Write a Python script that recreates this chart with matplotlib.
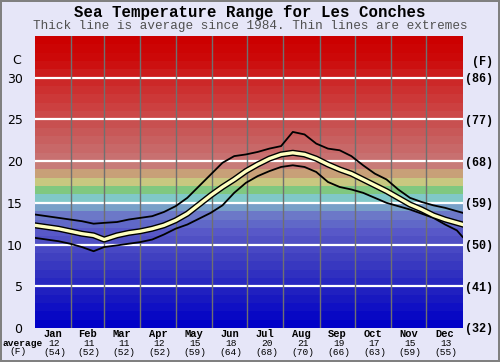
import numpy as np
import matplotlib
matplotlib.use("Agg")
import matplotlib.pyplot as plt
import matplotlib.patheffects as pe

# data (day of year -> deg C)
days = [0, 10, 20, 30, 40, 50, 59, 70, 80, 90, 100, 110, 120, 130, 140, 150, 160, 170, 180,
        190, 200, 210, 220, 230, 240, 250, 260, 270, 280, 290, 300, 310, 320, 330, 340, 350, 360, 365]
avg_c = [12.3, 12.1, 11.9, 11.6, 11.3, 11.1, 10.6, 11.1, 11.4, 11.6, 11.9, 12.3, 12.9, 13.7, 14.8,
         15.9, 16.9, 17.8, 18.8, 19.6, 20.3, 20.8, 21.0, 20.8, 20.3, 19.6, 19.0, 18.5, 17.8, 17.1,
         16.4, 15.6, 14.8, 14.2, 13.5, 13.0, 12.6, 12.4]
max_c = [13.6, 13.4, 13.2, 13.0, 12.8, 12.5, 12.6, 12.7, 13.0, 13.2, 13.4, 13.9, 14.6, 15.6, 17.0,
         18.4, 19.8, 20.6, 20.8, 21.1, 21.5, 21.8, 23.5, 23.2, 22.1, 21.5, 21.3, 20.6, 19.5, 18.5,
         17.8, 16.6, 15.6, 15.1, 14.7, 14.4, 14.0, 13.8]
min_c = [10.8, 10.6, 10.4, 10.1, 9.7, 9.2, 9.7, 9.9, 10.1, 10.3, 10.6, 11.2, 11.9, 12.4, 13.1,
         13.8, 14.7, 16.2, 17.4, 18.2, 18.8, 19.3, 19.5, 19.3, 18.7, 17.5, 16.9, 16.6, 16.2, 15.6,
         15.0, 14.6, 14.2, 13.7, 13.2, 12.4, 11.7, 10.9]

months = ["Jan", "Feb", "Mar", "Apr", "May", "Jun", "Jul", "Aug", "Sep", "Oct", "Nov", "Dec"]
month_avg_c = [12, 11, 11, 12, 15, 18, 20, 21, 19, 17, 15, 13]
month_avg_f = [54, 52, 52, 52, 59, 64, 68, 70, 66, 63, 59, 55]
month_start = [0, 31, 59, 90, 120, 151, 181, 212, 243, 273, 304, 334, 365]

c_ticks = [0, 5, 10, 15, 20, 25, 30]
f_labels = ["(32)", "(41)", "(50)", "(59)", "(68)", "(77)", "(86)"]

# one colour per 1 degree band, 0..35
band_colors = ["#0000c8", "#0808c4", "#1010c4", "#1818c0", "#2020c0", "#2828c0", "#3030c0",
               "#3838c0", "#4040c0", "#4848c4", "#5050c4", "#5858c8", "#6068c8", "#6c78c8",
               "#78a0c8", "#80c8c8", "#80c880", "#c8c880", "#c8a078", "#c87c78", "#c87070",
               "#c86868", "#c86060", "#c85858", "#c85050", "#cc4848", "#cc4040", "#cc3838",
               "#cc3030", "#cc2828", "#cc1c1c", "#cc1010", "#cc0808", "#cc0404", "#cc0000"]

bg = "#e6e6f8"
mono = "Liberation Mono"

fig = plt.figure(figsize=(5, 3.62), dpi=100, facecolor=bg, edgecolor="#808080", linewidth=1.5)
ax = fig.add_axes([0.07, 0.094, 0.8554, 0.8066])

for i, col in enumerate(band_colors):
    ax.axhspan(i, i + 1, color=col, lw=0, zorder=0)

for t in c_ticks[1:]:
    ax.axhline(t, color="white", lw=1.6, zorder=1)
for d in month_start[1:-1]:
    ax.axvline(d, color="#707070", lw=1, zorder=1)

ax.plot(days, max_c, color="black", lw=1.3, zorder=3)
ax.plot(days, min_c, color="black", lw=1.3, zorder=3)
ax.plot(days, avg_c, color="#ffffc0", lw=2.4, zorder=4,
        path_effects=[pe.Stroke(linewidth=4.4, foreground="black"), pe.Normal()])

ax.set_xlim(0, 365)
ax.set_ylim(0, 35)
for s in ax.spines.values():
    s.set_visible(False)
ax.set_xticks([])
ax.set_yticks(c_ticks)
ax.set_yticklabels([str(t) for t in c_ticks], fontsize=9, fontfamily="DejaVu Sans")
ax.tick_params(axis="y", length=0, pad=9)

ax2 = ax.twinx()
ax2.set_ylim(0, 35)
ax2.set_yticks(c_ticks)
ax2.set_yticklabels(f_labels, fontsize=8.5, fontfamily=mono, fontweight="bold")
ax2.tick_params(axis="y", length=0, pad=1.5)
for s in ax2.spines.values():
    s.set_visible(False)

for i, m in enumerate(months):
    mid = (month_start[i] + month_start[i + 1]) / 2
    ax.annotate(m, (mid, 0), xycoords=("data", "axes fraction"), xytext=(0, -4.5),
                textcoords="offset points", ha="center", va="center",
                fontsize=7.5, fontfamily=mono, fontweight="bold")
    ax.annotate(str(month_avg_c[i]), (mid, 0), xycoords=("data", "axes fraction"), xytext=(1, -11),
                textcoords="offset points", ha="center", va="center", fontsize=6.8, fontfamily=mono)
    ax.annotate("(%d)" % month_avg_f[i], (mid, 0), xycoords=("data", "axes fraction"), xytext=(1, -17.5),
                textcoords="offset points", ha="center", va="center", fontsize=6.8, fontfamily=mono)

fig.text(23 / 500, 1 - 344 / 362, "average", ha="center", va="center", fontsize=6.8,
         fontfamily=mono, fontweight="bold")
fig.text(18 / 500, 1 - 352 / 362, "(F)", ha="center", va="center", fontsize=6.8, fontfamily=mono)
fig.text(17 / 500, 1 - 61 / 362, "C", ha="center", va="center", fontsize=9, fontfamily="DejaVu Sans")
fig.text(482 / 500, 1 - 62 / 362, "(F)", ha="center", va="center", fontsize=8.5,
         fontfamily=mono, fontweight="bold")

fig.text(0.5, 1 - 12 / 362, "Sea Temperature Range for Les Conches", ha="center", va="center",
         fontsize=11.3, fontfamily=mono, fontweight="bold")
fig.text(0.5, 1 - 26 / 362, "Thick line is average since 1984. Thin lines are extremes",
         ha="center", va="center", fontsize=9.1, fontfamily=mono, color="#505050")

fig.savefig("out.png", dpi=100, facecolor=bg, edgecolor=fig.get_edgecolor())
